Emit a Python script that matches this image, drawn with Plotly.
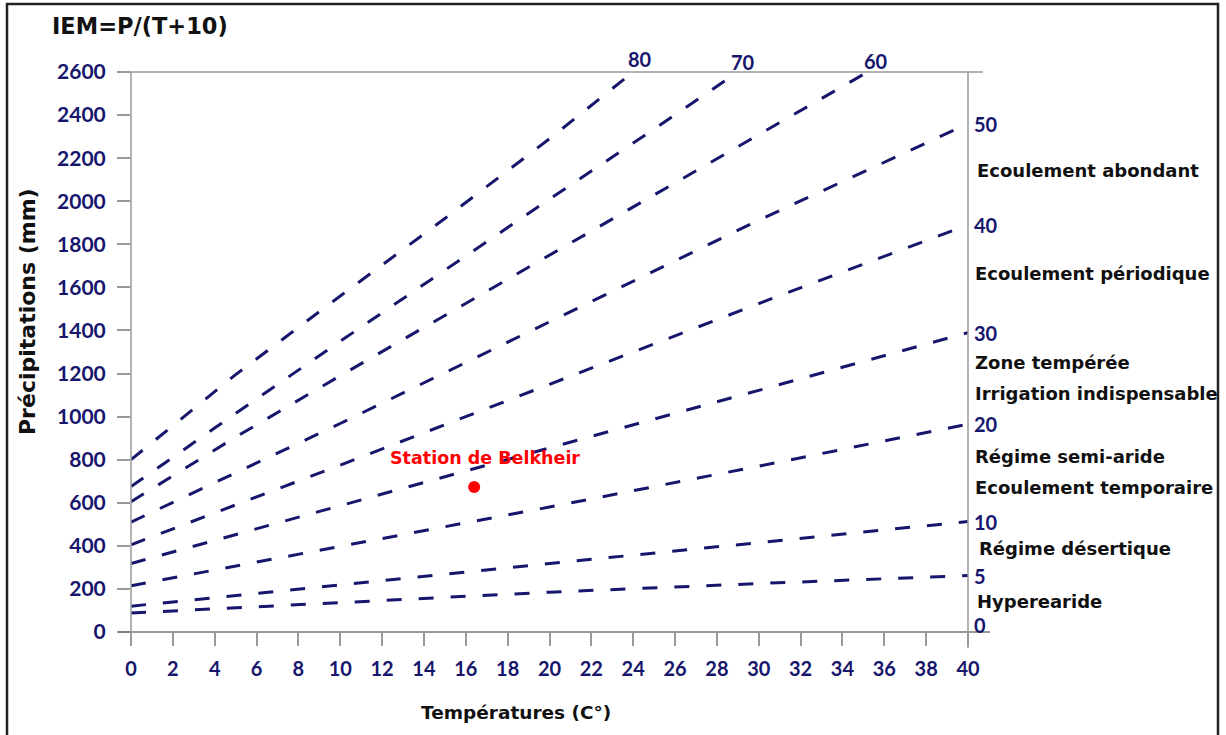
import plotly.graph_objects as go

# ---- data (T in °C, P in mm) ----
T_80 = [0, 5, 10, 15, 20, 24]
P_80 = [800, 1195, 1560, 1920, 2290, 2600]
T_70 = [0, 5, 10, 15, 20, 25, 29]
P_70 = [675, 1015, 1350, 1680, 2010, 2335, 2600]
T_60 = [0, 5, 10, 15, 20, 25, 30, 35.2]
P_60 = [605, 905, 1190, 1470, 1750, 2030, 2310, 2600]
T_FULL = [0, 10, 20, 30, 40]
P_50 = [510, 968, 1440, 1912, 2360]
P_40 = [405, 775, 1150, 1525, 1890]
P_30 = [318, 588, 855, 1122, 1390]
P_20 = [215, 397, 580, 770, 965]
P_10 = [120, 220, 318, 415, 513]
P_5 = [88, 137, 185, 225, 262]

top_index_labels = ["80", "70", "60"]
right_index_labels = ["50", "40", "30", "20", "10", "5", "0"]

zone_labels = ["Ecoulement abondant", "Ecoulement périodique", "Zone tempérée",
               "Irrigation indispensable", "Régime semi-aride",
               "Ecoulement temporaire", "Régime désertique", "Hyperearide"]
zone_label_px_y = [170, 273, 363, 393, 456, 487, 548, 601]
zone_label_px_x = [975, 973, 973, 973, 973, 973, 977, 975]

station_name = "Station de Belkheir"
station_T = [16.4]
station_P = [673]

x_ticks = list(range(0, 41, 2))
y_ticks = list(range(0, 2601, 200))

NAVY = "#16166c"
NUMFONT = "Lato"
TXTFONT = "DejaVu Sans"

# plot-area geometry (pixels)
L, R, TOP, BOT = 131, 968, 72, 632
W, H = 1226, 735
def px(x):
    return (x - L) / (R - L)
def py(y):
    return (BOT - y) / (BOT - TOP)

fig = go.Figure()

curves = [(T_80, P_80), (T_70, P_70), (T_60, P_60),
          (T_FULL, P_50), (T_FULL, P_40), (T_FULL, P_30),
          (T_FULL, P_20), (T_FULL, P_10), (T_FULL, P_5)]
for tx, pv in curves:
    fig.add_trace(go.Scatter(x=tx, y=pv, mode="lines",
                             line=dict(color=NAVY, width=3, dash="15px,17px"),
                             hoverinfo="skip", showlegend=False, cliponaxis=False))

fig.add_trace(go.Scatter(x=station_T, y=station_P, mode="markers",
                         marker=dict(color="#ff0000", size=12),
                         showlegend=False, cliponaxis=False))

ann = []
# top index labels at ends of curves
for lab, (tx, pv), dx, dy in zip(top_index_labels, curves[:3], [7, 5, 8], [-13, -10, -11]):
    ann.append(dict(x=tx[-1], y=pv[-1], xref="x", yref="y", text=lab, showarrow=False,
                    xshift=dx, yshift=-dy,
                    font=dict(family=NUMFONT, size=20, color=NAVY, weight="bold")))
# right index labels
right_vals = [P_50[-1], P_40[-1], P_30[-1], P_20[-1], P_10[-1], P_5[-1], 0]
for lab, v in zip(right_index_labels, right_vals):
    ann.append(dict(x=40, y=v, xref="x", yref="y", text=lab, showarrow=False,
                    xanchor="left", xshift=4, yshift=(7 if v == 0 else 0),
                    font=dict(family=NUMFONT, size=20, color=NAVY, weight="bold")))
# zone labels
for lab, xx, yy in zip(zone_labels, zone_label_px_x, zone_label_px_y):
    ann.append(dict(x=px(xx), y=py(yy), xref="paper", yref="paper", text=lab,
                    showarrow=False, xanchor="left", yanchor="middle",
                    font=dict(family=TXTFONT, size=18, color="#111111", weight="bold")))
# station label
ann.append(dict(x=station_T[0], y=station_P[0], xref="x", yref="y", text=station_name,
                showarrow=False, xshift=11, yshift=29,
                font=dict(family=TXTFONT, size=17.5, color="#ff0000", weight="bold")))
# titles
ann.append(dict(x=px(50), y=py(26), xref="paper", yref="paper", text="IEM=P/(T+10)",
                showarrow=False, xanchor="left", yanchor="middle",
                font=dict(family=TXTFONT, size=22.5, color="#111111", weight="bold")))
ann.append(dict(x=px(27), y=py(312), xref="paper", yref="paper", text="Précipitations (mm)",
                showarrow=False, textangle=-90, xanchor="center", yanchor="middle",
                font=dict(family=TXTFONT, size=22, color="#111111", weight="bold")))
ann.append(dict(x=px(516), y=py(712), xref="paper", yref="paper", text="Températures (C°)",
                showarrow=False, xanchor="center", yanchor="middle",
                font=dict(family=TXTFONT, size=18.5, color="#111111", weight="bold")))

GREY = "#9a9a9a"
shapes = [
    dict(type="line", xref="paper", yref="paper", x0=px(118), x1=px(983), y0=1, y1=1,
         line=dict(color=GREY, width=1.5)),
    dict(type="line", xref="paper", yref="paper", x0=px(118), x1=px(990), y0=0, y1=0,
         line=dict(color="#777777", width=1.5)),
    dict(type="line", xref="paper", yref="paper", x0=0, x1=0, y0=py(645), y1=1,
         line=dict(color=GREY, width=1.5)),
    dict(type="line", xref="paper", yref="paper", x0=1, x1=1, y0=py(648), y1=1,
         line=dict(color=GREY, width=1.5)),
    dict(type="rect", xref="paper", yref="paper", x0=px(7), x1=px(1218), y0=py(745), y1=py(4),
         line=dict(color="#222222", width=2.5)),
]

fig.update_layout(
    width=W, height=H,
    margin=dict(l=L, r=W - R, t=TOP, b=H - BOT),
    paper_bgcolor="white", plot_bgcolor="white",
    annotations=ann, shapes=shapes,
    xaxis=dict(range=[0, 40], tickvals=x_ticks, showgrid=False, zeroline=False, showline=False,
               ticks="outside", ticklen=13, tickwidth=1.5, tickcolor=GREY,
               tickfont=dict(family=NUMFONT, size=20, color=NAVY, weight="bold"),
               ticklabelstandoff=6),
    yaxis=dict(range=[0, 2600], tickvals=y_ticks, showgrid=False, zeroline=False, showline=False,
               ticks="outside", ticklen=13, tickwidth=1.5, tickcolor=GREY,
               tickfont=dict(family=NUMFONT, size=21, color=NAVY, weight="bold"),
               ticklabelstandoff=7),
)

fig.write_html("out.html", config={"displayModeBar": False},
               post_script="document.body.style.margin='0';document.body.style.overflow='hidden';")
